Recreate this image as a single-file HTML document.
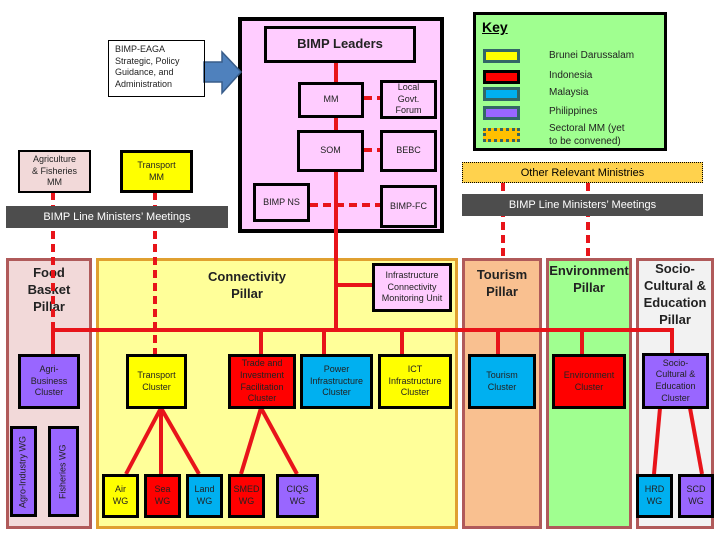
<!DOCTYPE html>
<html><head><meta charset="utf-8"><style>
body{margin:0;width:720px;height:540px;background:#fff;position:relative;overflow:hidden;font-family:"Liberation Sans",sans-serif}
div{position:absolute;box-sizing:border-box}
.b{border:3px solid #000;display:flex;align-items:center;justify-content:center;text-align:center;font-size:9px;line-height:1.3;color:#222}
.p{border:3px solid #b05a5a;text-align:center;font-weight:bold;font-size:13px;line-height:1.3;color:#222;padding-top:4px}
.bar{background:#4d4d4d;color:#fff;font-size:11px;display:flex;align-items:center;justify-content:center}
.sw{left:7px;width:37px;height:14px;border:3px solid #366}
.kt{left:73px;font-size:10px;color:#222}
.v{writing-mode:vertical-rl;transform:rotate(180deg)}
</style></head><body>
<!-- pillars -->
<div class="p" style="left:6px;top:258px;width:86px;height:271px;background:#f2d9d9">Food<br>Basket<br>Pillar</div>
<div class="p" style="left:96px;top:258px;width:362px;height:271px;background:#ffff99;border-color:#e0a030;padding-top:8px"><span style="position:relative;left:-30px">Connectivity<br>Pillar</span></div>
<div class="p" style="left:462px;top:258px;width:80px;height:271px;background:#f9c090;padding-top:6px">Tourism<br>Pillar</div>
<div class="p" style="left:546px;top:258px;width:86px;height:271px;background:#a0ff90;padding-top:2px">Environment<br>Pillar</div>
<div class="p" style="left:636px;top:258px;width:78px;height:271px;background:#f2f2f2;padding-top:0">Socio-<br>Cultural &amp;<br>Education<br>Pillar</div>
<!-- pink main -->
<div style="left:238px;top:17px;width:206px;height:216px;background:#ffccff;border:4px solid #000"></div>
<svg width="720" height="540" style="position:absolute;left:0;top:0">
<g stroke="#e8141a" stroke-width="4" fill="none">
<line x1="336" y1="60" x2="336" y2="332"/>
<line x1="336" y1="285" x2="374" y2="285"/>
<line x1="51" y1="330" x2="674" y2="330"/>
<line x1="672" y1="330" x2="672" y2="354"/>
<line x1="53" y1="330" x2="53" y2="354"/>
<line x1="261" y1="330" x2="261" y2="354"/>
<line x1="324" y1="330" x2="324" y2="354"/>
<line x1="402" y1="330" x2="402" y2="354"/>
<line x1="498" y1="330" x2="498" y2="354"/>
<line x1="582" y1="330" x2="582" y2="354"/>
<line x1="161" y1="408" x2="126" y2="474"/><line x1="161" y1="408" x2="161" y2="474"/><line x1="161" y1="408" x2="199" y2="474"/>
<line x1="261" y1="408" x2="241" y2="474"/><line x1="261" y1="408" x2="297" y2="474"/>
<line x1="660" y1="408" x2="654" y2="474"/><line x1="690" y1="408" x2="702" y2="474"/>
</g>
<g stroke="#e8141a" stroke-width="4" fill="none" stroke-dasharray="8,5">
<line x1="53" y1="192" x2="53" y2="354"/>
<line x1="155" y1="192" x2="155" y2="354"/>
<line x1="364" y1="98" x2="380" y2="98"/>
<line x1="364" y1="150" x2="380" y2="150"/>
<line x1="310" y1="205" x2="380" y2="205"/>
<line x1="503" y1="183" x2="503" y2="258"/>
<line x1="588" y1="183" x2="588" y2="258"/>
</g>
<polygon points="204,62 222,62 222,52 241,72 222,93 222,82 204,82" fill="#4f81bd" stroke="#385d8a" stroke-width="1.5"/>
</svg>
<!-- top boxes -->
<div class="b" style="left:264px;top:26px;width:152px;height:37px;background:#ffccff;font-size:13px;font-weight:bold">BIMP Leaders</div>
<div class="b" style="left:298px;top:82px;width:66px;height:36px;background:#ffccff">MM</div>
<div class="b" style="left:380px;top:80px;width:57px;height:39px;background:#ffccff">Local<br>Govt.<br>Forum</div>
<div class="b" style="left:297px;top:130px;width:67px;height:42px;background:#ffccff">SOM</div>
<div class="b" style="left:380px;top:130px;width:57px;height:42px;background:#ffccff">BEBC</div>
<div class="b" style="left:253px;top:183px;width:57px;height:39px;background:#ffccff">BIMP NS</div>
<div class="b" style="left:380px;top:185px;width:57px;height:43px;background:#ffccff">BIMP-FC</div>
<div style="left:108px;top:40px;width:97px;height:57px;border:1px solid #000;font-size:9px;line-height:1.3;padding:3px 6px;color:#222">BIMP-EAGA Strategic, Policy Guidance, and Administration</div>
<div class="b" style="left:18px;top:150px;width:73px;height:43px;background:#f2d9d9;border-width:2px">Agriculture<br>&amp; Fisheries<br>MM</div>
<div class="b" style="left:120px;top:150px;width:73px;height:43px;background:#ffff00">Transport<br>MM</div>
<div class="bar" style="left:6px;top:206px;width:222px;height:22px">BIMP Line Ministers’ Meetings</div>
<!-- key -->
<div style="left:473px;top:12px;width:194px;height:139px;background:#a0ff90;border:3px solid #000">
<div style="left:6px;top:4px;font-size:14px;font-weight:bold;text-decoration:underline">Key</div>
<div class="sw" style="top:34px;background:#ffff00"></div><div class="kt" style="top:35px">Brunei Darussalam</div>
<div class="sw" style="top:55px;background:#ff0000;border-color:#000"></div><div class="kt" style="top:55px">Indonesia</div>
<div class="sw" style="top:72px;background:#00b0f0"></div><div class="kt" style="top:72px">Malaysia</div>
<div class="sw" style="top:91px;background:#9966ff"></div><div class="kt" style="top:91px">Philippines</div>
<div class="sw" style="top:113px;background:#ffc000;border-style:dotted"></div><div class="kt" style="top:107px;line-height:1.3">Sectoral MM (yet<br>to be convened)</div>
</div>
<div style="left:462px;top:162px;width:241px;height:21px;background:#ffd24d;border:1px dotted #000;font-size:11px;display:flex;align-items:center;justify-content:center">Other Relevant Ministries</div>
<div class="bar" style="left:462px;top:194px;width:241px;height:22px">BIMP Line Ministers’ Meetings</div>
<!-- clusters -->
<div class="b" style="left:372px;top:263px;width:80px;height:49px;background:#ffccff">Infrastructure Connectivity Monitoring Unit</div>
<div class="b" style="left:18px;top:354px;width:62px;height:55px;background:#9966ff">Agri-<br>Business<br>Cluster</div>
<div class="b" style="left:126px;top:354px;width:61px;height:55px;background:#ffff00">Transport<br>Cluster</div>
<div class="b" style="left:228px;top:354px;width:68px;height:55px;background:#ff0000">Trade and Investment Facilitation Cluster</div>
<div class="b" style="left:300px;top:354px;width:73px;height:55px;background:#00b0f0">Power Infrastructure Cluster</div>
<div class="b" style="left:378px;top:354px;width:74px;height:55px;background:#ffff00">ICT<br>Infrastructure<br>Cluster</div>
<div class="b" style="left:468px;top:354px;width:68px;height:55px;background:#00b0f0">Tourism<br>Cluster</div>
<div class="b" style="left:552px;top:354px;width:74px;height:55px;background:#ff0000">Environment<br>Cluster</div>
<div class="b" style="left:642px;top:353px;width:67px;height:56px;background:#9966ff">Socio-<br>Cultural &amp;<br>Education<br>Cluster</div>
<!-- WGs -->
<div class="b v" style="left:10px;top:426px;width:27px;height:91px;background:#9966ff">Agro-Industry WG</div>
<div class="b v" style="left:48px;top:426px;width:31px;height:91px;background:#9966ff">Fisheries WG</div>
<div class="b" style="left:102px;top:474px;width:37px;height:44px;background:#ffff00">Air<br>WG</div>
<div class="b" style="left:144px;top:474px;width:37px;height:44px;background:#ff0000">Sea<br>WG</div>
<div class="b" style="left:186px;top:474px;width:37px;height:44px;background:#00b0f0">Land<br>WG</div>
<div class="b" style="left:228px;top:474px;width:37px;height:44px;background:#ff0000">SMED<br>WG</div>
<div class="b" style="left:276px;top:474px;width:43px;height:44px;background:#9966ff">CIQS<br>WG</div>
<div class="b" style="left:636px;top:474px;width:37px;height:44px;background:#00b0f0">HRD<br>WG</div>
<div class="b" style="left:678px;top:474px;width:36px;height:44px;background:#9966ff">SCD<br>WG</div>
</body></html>
